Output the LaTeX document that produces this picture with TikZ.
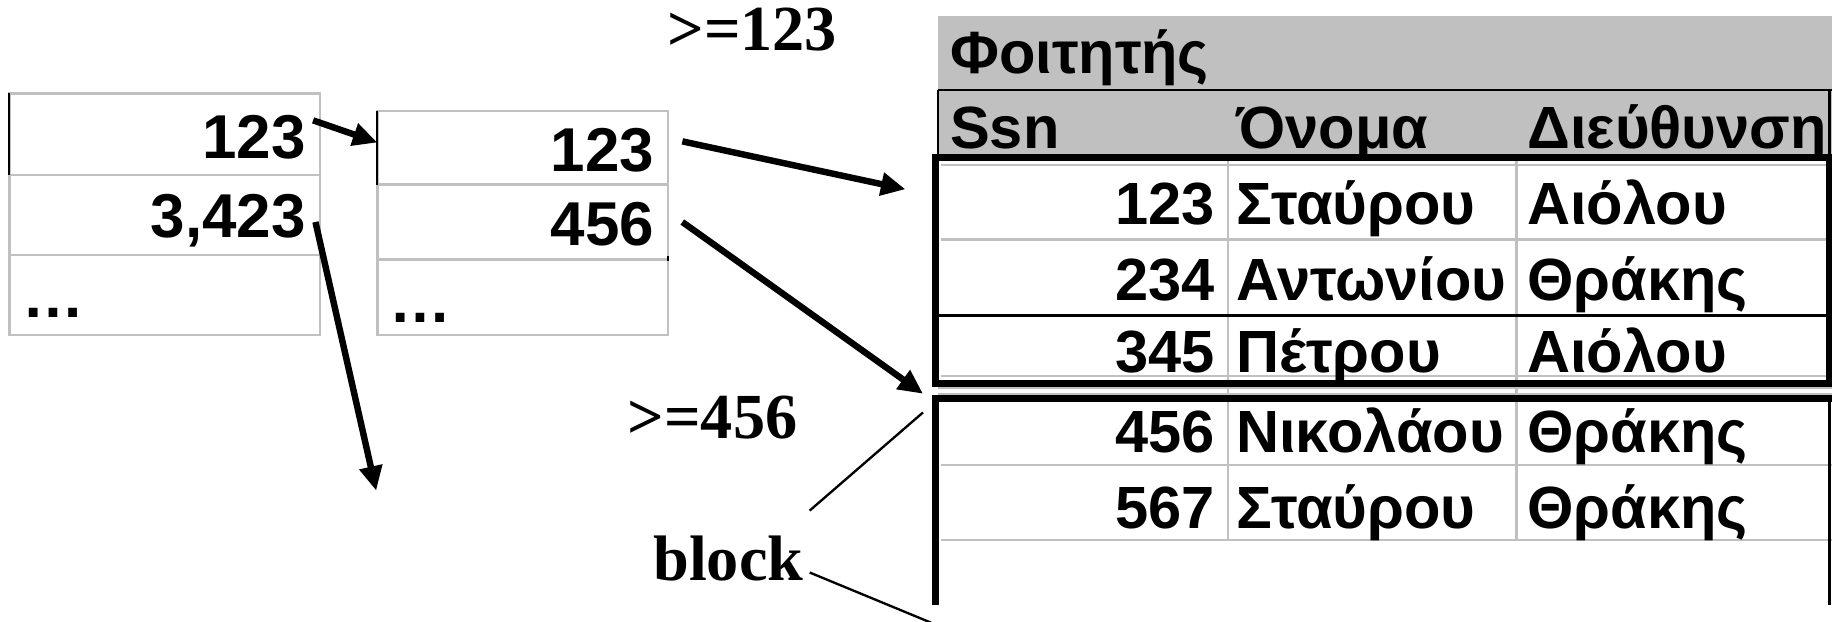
\documentclass[tikz,border=0pt]{standalone}
\usepackage{fontspec}
\setmainfont{Liberation Sans}
\newfontfamily\labelfont{Liberation Serif}
\usetikzlibrary{arrows.meta}
\definecolor{cellgray}{HTML}{C0C0C0}
\begin{document}
\begin{tikzpicture}[x=1pt,y=-1pt,
  cellline/.style={draw=cellgray,line width=2pt},
  edge/.style={draw=black,line width=1.6pt},
  thinrule/.style={draw=black,line width=2.2pt},
  blockframe/.style={draw=black,line width=6pt},
  ptr/.style={line width=5.5pt,-{Triangle[length=21pt,width=19pt]}},
  leader/.style={line width=2pt},
  idxtxt/.style={font=\fontsize{53}{53}\selectfont\bfseries,inner sep=0pt},
  tabtxt/.style={font=\fontsize{51}{51}\selectfont\bfseries,inner sep=0pt},
  lbltxt/.style={font=\fontsize{55}{55}\selectfont\labelfont\bfseries,inner sep=0pt},
]
\useasboundingbox (0,0) rectangle (1568,532);

% ---------- first-level index ----------
\draw[cellline] (8,80) rectangle (274,287);
\draw[cellline] (8,150) -- (274,150) (8,218) -- (274,218);
\draw[edge] (8,80) -- (8,150);
\node[idxtxt,anchor=base east] (a1) at (262,136) {123};
\node[idxtxt,anchor=base east] (a2) at (262,203) {3,423};
\node[idxtxt,anchor=base west] (a3) at (19,272) {…};

% ---------- second-level index ----------
\draw[cellline] (323,95) rectangle (572,287);
\draw[cellline] (323,158) -- (572,158) (323,222) -- (572,222);
\draw[edge] (323,95) -- (323,158);
\draw[edge] (572,219) -- (572,223);
\node[idxtxt,anchor=base east] (b1) at (560,147) {123};
\node[idxtxt,anchor=base east] (b2) at (560,210) {456};
\node[idxtxt,anchor=base west] (b3) at (333,276) {…};

% ---------- relation ----------
\fill[cellgray] (803,14) rectangle (1568,133);
\draw[thinrule] (803,77) -- (1568,77);
\draw[thinrule] (803,77) -- (803,133);
\draw[thinrule] (1566,77) -- (1566,133);
\node[tabtxt,anchor=base west] (title) at (813,63) {Φοιτητής};
\node[tabtxt,anchor=base west] (hssn) at (813,127) {Ssn};
\node[tabtxt,anchor=base west] (hname) at (1058,127) {Όνομα};
\node[tabtxt,anchor=base west] (haddr) at (1307,127) {Διεύθυνση};

% cell grid
\draw[cellline] (1051,137) -- (1051,462) (1298,137) -- (1298,462);
\draw[cellline] (805,141) -- (1564,141);
\draw[cellline] (805,205) -- (1564,205);
\draw[cellline] (805,322) -- (1564,322);
\draw[cellline] (803,332) -- (1568,332) (803,337) -- (1568,337);
\draw[cellline] (805,398) -- (1568,398);
\draw[cellline] (805,462) -- (1568,462);
\draw[thinrule] (803,270) -- (1566,270);

% blocks
\draw[blockframe] (801,135) rectangle (1566,328);
\draw[blockframe] (801,518) -- (801,341) -- (1568,341);
\draw[thinrule] (1566,341) -- (1566,518);

% rows
\node[tabtxt,anchor=base east] (s1) at (1040,192) {123};
\node[tabtxt,anchor=base west] (n1) at (1058,192) {Σταύρου};
\node[tabtxt,anchor=base west] (d1) at (1307,192) {Αιόλου};
\node[tabtxt,anchor=base east] (s2) at (1040,257) {234};
\node[tabtxt,anchor=base west] (n2) at (1058,257) {Αντωνίου};
\node[tabtxt,anchor=base west] (d2) at (1307,257) {Θράκης};
\node[tabtxt,anchor=base east] (s3) at (1040,319) {345};
\node[tabtxt,anchor=base west] (n3) at (1058,319) {Πέτρου};
\node[tabtxt,anchor=base west] (d3) at (1307,319) {Αιόλου};
\node[tabtxt,anchor=base east] (s4) at (1040,387) {456};
\node[tabtxt,anchor=base west] (n4) at (1058,387) {Νικολάου};
\node[tabtxt,anchor=base west] (d4) at (1307,387) {Θράκης};
\node[tabtxt,anchor=base east] (s5) at (1040,452) {567};
\node[tabtxt,anchor=base west] (n5) at (1058,452) {Σταύρου};
\node[tabtxt,anchor=base west] (d5) at (1307,452) {Θράκης};

% ---------- labels ----------
\node[lbltxt,anchor=base west] (ge1) at (571,43) {>=123};
\node[lbltxt,anchor=base west] (ge2) at (537,375) {>=456};
\node[lbltxt,anchor=base west] (blk) at (559,497) {block};

% ---------- pointers ----------
\coordinate (a1out) at (268,103);
\coordinate (b1in) at (323,122);
\coordinate (a2out) at (270,190);
\coordinate (a2end) at (322,420);
\coordinate (b1out) at (584,121);
\coordinate (blk1in) at (775,162);
\coordinate (b2out) at (584,190);
\coordinate (blk2in) at (790,337);
\draw[ptr] (a1out) -- (b1in);
\draw[ptr] (a2out) -- (a2end);
\draw[ptr] (b1out) -- (blk1in);
\draw[ptr] (b2out) -- (blk2in);

\coordinate (blkup) at (693,437);
\coordinate (blkupend) at (790,353);
\coordinate (blkdn) at (693,490);
\coordinate (blkdnend) at (797,533);
\draw[leader] (blkup) -- (blkupend);
\draw[leader] (blkdn) -- (blkdnend);
\end{tikzpicture}
\end{document}
